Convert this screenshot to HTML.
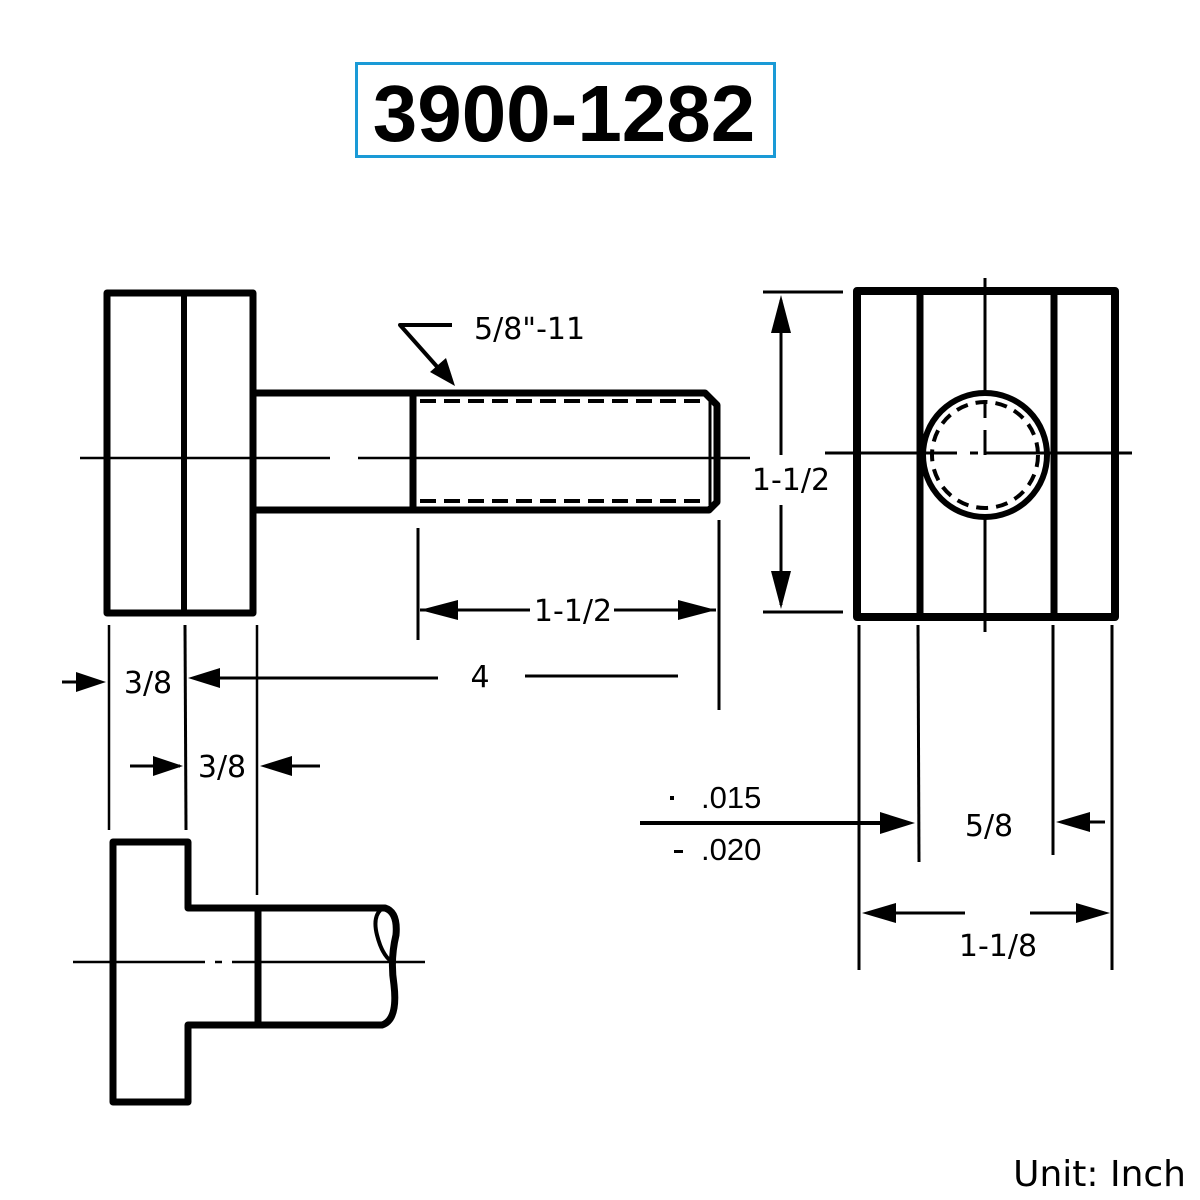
<!DOCTYPE html>
<html><head><meta charset="utf-8"><style>
html,body{margin:0;padding:0;background:#fff;width:1200px;height:1200px;overflow:hidden}
svg text{font-family:"DejaVu Sans","Liberation Sans",sans-serif;fill:#000}
</style></head><body>
<svg width="1200" height="1200" viewBox="0 0 1200 1200" xmlns="http://www.w3.org/2000/svg">
<!-- title -->
<rect x="356.5" y="63.5" width="418" height="93" fill="none" stroke="#1a9ad6" stroke-width="3"/>
<text x="564" y="141" text-anchor="middle" style="font-family:'Liberation Sans',sans-serif;font-weight:bold;font-size:80px">3900-1282</text>

<g stroke="#000" fill="none" stroke-linejoin="round">
<rect x="107" y="293" width="146" height="320" stroke-width="7"/>
<line x1="184" y1="293" x2="184" y2="613" stroke-width="6"/>
<path d="M253 393 H705 L717 405 V502 L709 510 H253" stroke-width="7"/>
<line x1="413" y1="393" x2="413" y2="510" stroke-width="7"/>
<line x1="710" y1="400" x2="710" y2="505" stroke-width="3"/>
<line x1="420" y1="401" x2="705" y2="401" stroke-width="4" stroke-dasharray="16,8"/>
<line x1="420" y1="501" x2="705" y2="501" stroke-width="4" stroke-dasharray="16,8"/>
<path d="M80 458 H330 M358 458 H750" stroke-width="2.5"/>
<path d="M452 325 H400 L440 370" stroke-width="4"/>
<line x1="109" y1="625" x2="109" y2="830" stroke-width="2.5"/>
<line x1="185" y1="625" x2="186" y2="830" stroke-width="3"/>
<line x1="257" y1="625" x2="257" y2="895" stroke-width="2.5"/>
<line x1="418" y1="528" x2="418" y2="640" stroke-width="3"/>
<line x1="719" y1="520" x2="719" y2="710" stroke-width="3"/>
<line x1="420" y1="610" x2="530" y2="610" stroke-width="3"/>
<line x1="614" y1="610" x2="716" y2="610" stroke-width="3"/>
<line x1="62" y1="682" x2="100" y2="682" stroke-width="3"/>
<line x1="195" y1="678" x2="438" y2="678" stroke-width="3"/>
<line x1="525" y1="676" x2="678" y2="676" stroke-width="3"/>
<line x1="130" y1="766" x2="180" y2="766" stroke-width="3"/>
<line x1="265" y1="766" x2="320" y2="766" stroke-width="3"/>

<path d="M113 842 H188 V908 H385 Q398 912 396 935 Q390 960 394 985 Q398 1020 382 1025 H188 V1102 H113 Z" stroke-width="7"/>
<path d="M383 908 Q372 915 377 935 Q382 955 392 962" stroke-width="4"/>
<line x1="258" y1="908" x2="258" y2="1025" stroke-width="7"/>
<path d="M73 962 H205 M215 962 H222 M232 962 H425" stroke-width="2.5"/>

<rect x="857" y="291" width="258" height="326" stroke-width="8"/>
<line x1="920" y1="291" x2="920" y2="617" stroke-width="7"/>
<line x1="1054" y1="291" x2="1054" y2="617" stroke-width="7"/>
<line x1="985" y1="278" x2="985" y2="632" stroke-width="3"/>
<circle cx="985" cy="455" r="62" fill="#fff" stroke-width="6"/>
<circle cx="985" cy="455" r="53" stroke-width="4" stroke-dasharray="12,8"/>
<path d="M825 453 H957 M970 453 H978 M985 455 V430 M985 453 H1132" stroke-width="3"/>
<path d="M985 400 V418" stroke-width="3"/>
<line x1="763" y1="292" x2="843" y2="292" stroke-width="3"/>
<line x1="763" y1="612" x2="843" y2="612" stroke-width="3"/>
<line x1="781" y1="300" x2="781" y2="455" stroke-width="3"/>
<line x1="781" y1="505" x2="781" y2="605" stroke-width="3"/>
<line x1="859" y1="625" x2="859" y2="970" stroke-width="3"/>
<line x1="918" y1="625" x2="919" y2="862" stroke-width="3"/>
<line x1="1053" y1="625" x2="1053" y2="855" stroke-width="3"/>
<line x1="1112" y1="625" x2="1112" y2="970" stroke-width="3"/>
<line x1="640" y1="823" x2="880" y2="823" stroke-width="4"/>
<line x1="1080" y1="822" x2="1105" y2="822" stroke-width="3"/>
<line x1="890" y1="913" x2="965" y2="913" stroke-width="3"/>
<line x1="1030" y1="913" x2="1080" y2="913" stroke-width="3"/>
</g>

<g fill="#000">
<polygon points="455,386 430,372 446,358"/>
<polygon points="420,610 458,600 458,620"/>
<polygon points="716,610 678,600 678,620"/>
<polygon points="106,682 76,672 76,692"/>
<polygon points="188,678 220,668 220,688"/>
<polygon points="183,766 153,756 153,776"/>
<polygon points="260,766 292,756 292,776"/>
<polygon points="781,295 771,333 791,333"/>
<polygon points="781,609 771,571 791,571"/>
<polygon points="915,823 880,812 880,834"/>
<polygon points="1056,822 1090,812 1090,832"/>
<polygon points="862,913 896,903 896,923"/>
<polygon points="1110,913 1076,903 1076,923"/>
<rect x="670" y="796" width="4" height="4"/>
<rect x="674" y="850" width="9" height="3"/>
</g>

<g font-size="30">
<text x="474" y="339">5/8"-11</text>
<text x="573" y="621" text-anchor="middle">1-1/2</text>
<text x="480" y="687" text-anchor="middle">4</text>
<text x="148" y="693" text-anchor="middle">3/8</text>
<text x="222" y="777" text-anchor="middle">3/8</text>
<text x="791" y="490" text-anchor="middle">1-1/2</text>
<text x="701" y="808" style="font-family:'Liberation Sans',sans-serif" font-size="31">.015</text>
<text x="701" y="860" style="font-family:'Liberation Sans',sans-serif" font-size="31">.020</text>
<text x="989" y="836" text-anchor="middle">5/8</text>
<text x="998" y="956" text-anchor="middle">1-1/8</text>
<text x="1186" y="1186" text-anchor="end" font-size="36">Unit: Inch</text>
</g>
</svg>
</body></html>
